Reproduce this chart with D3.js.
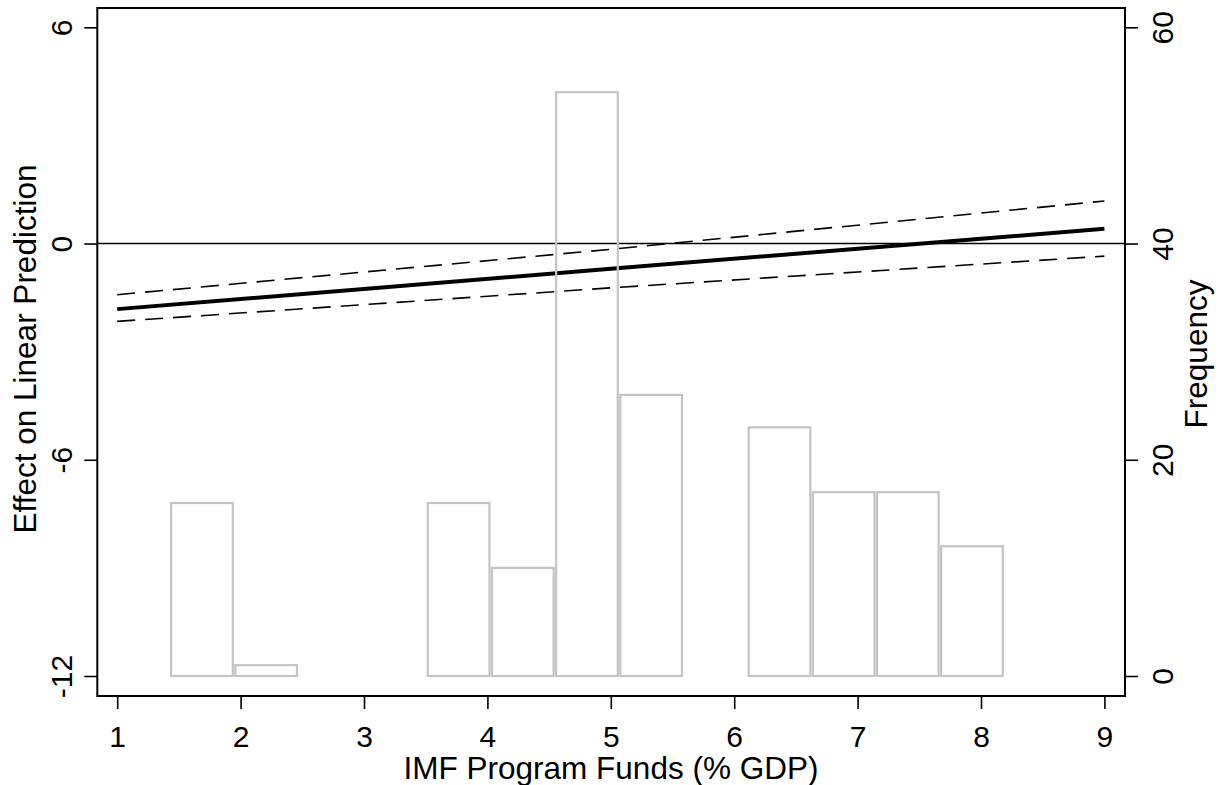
<!DOCTYPE html>
<html>
<head>
<meta charset="utf-8">
<script src="https://cdn.jsdelivr.net/npm/d3@7"></script>
<style>
  html, body { margin: 0; padding: 0; background: #fff; }
  svg { display: block; }
  text { font-family: "Liberation Sans", Arial, sans-serif; fill: #000; }
</style>
</head>
<body>
<svg id="chart" width="1222" height="785"></svg>
<script>
// ---- Data ----
const xTicks = [1, 2, 3, 4, 5, 6, 7, 8, 9];
const yLeftTicks = [-12, -6, 0, 6];
const yRightTicks = [0, 20, 40, 60];

const xMargin   = [1, 5, 9];
const effect    = [-1.82, -0.70, 0.41];
const ciUpper   = [-1.42, -0.16, 1.18];
const ciLower   = [-2.16, -1.23, -0.35];

const binStart  = [1.427, 1.947, 2.467, 2.987, 3.507, 4.027, 4.547, 5.067, 5.587, 6.107, 6.627, 7.147, 7.667];
const binWidth  = 0.52;
const frequency = [16, 1, 0, 0, 16, 10, 54, 26, 0, 23, 17, 17, 12];

const xTitle = "IMF Program Funds (% GDP)";
const yLeftTitle = "Effect on Linear Prediction";
const yRightTitle = "Frequency";

// ---- Layout ----
const box = { left: 97.3, right: 1125, top: 8, bottom: 696 };
const svg = d3.select("#chart");

const x = d3.scaleLinear().domain([1, 9]).range([117.2, 1104.4]);
const yL = d3.scaleLinear().domain([-12, 6]).range([676, 27.3]);
const yR = d3.scaleLinear().domain([0, 60]).range([676, 27.3]);

const tickFont = 30, titleFont = 31.5;
const fmt = d => String(d);   // plain hyphen-minus, as in the reference

// zero reference line
svg.append("line")
  .attr("x1", box.left).attr("x2", box.right)
  .attr("y1", yL(0)).attr("y2", yL(0))
  .attr("stroke", "#000").attr("stroke-width", 1.5);

// CI lines & effect line
const line = d3.line().x(d => x(d[0])).y(d => yL(d[1]));
[ciUpper, ciLower].forEach(arr => {
  svg.append("path")
    .attr("d", line(xMargin.map((v, i) => [v, arr[i]])))
    .attr("fill", "none").attr("stroke", "#000")
    .attr("stroke-width", 1.6).attr("stroke-dasharray", "18,10");
});
svg.append("path")
  .attr("d", line(xMargin.map((v, i) => [v, effect[i]])))
  .attr("fill", "none").attr("stroke", "#000").attr("stroke-width", 4);

// histogram bars
const bins = binStart.map((b, i) => ({ b, f: frequency[i] })).filter(d => d.f > 0);
svg.append("g").selectAll("rect").data(bins).join("rect")
  .attr("x", d => x(d.b) + 1.25)
  .attr("width", d => x(d.b + binWidth) - x(d.b) - 2.5)
  .attr("y", d => yR(d.f))
  .attr("height", d => yR(0) - yR(d.f))
  .attr("fill", "none").attr("stroke", "#c4c4c4").attr("stroke-width", 2.2);

// plot box
svg.append("rect")
  .attr("x", box.left).attr("y", box.top)
  .attr("width", box.right - box.left).attr("height", box.bottom - box.top)
  .attr("fill", "none").attr("stroke", "#000").attr("stroke-width", 2);

// bottom axis
const gx = svg.append("g").attr("transform", `translate(0,${box.bottom})`)
  .call(d3.axisBottom(x).tickValues(xTicks).tickFormat(fmt).tickSize(13).tickSizeOuter(0));
gx.select(".domain").remove();
gx.selectAll(".tick line").attr("stroke-width", 1.6);
gx.selectAll(".tick text").attr("font-size", tickFont).attr("dy", 0).attr("y", 51)
  .style("font-family", "'Liberation Sans', Arial, sans-serif");

// left axis
const gl = svg.append("g").attr("transform", `translate(${box.left},0)`)
  .call(d3.axisLeft(yL).tickValues(yLeftTicks).tickFormat(fmt).tickSize(13).tickSizeOuter(0));
gl.select(".domain").remove();
gl.selectAll(".tick line").attr("stroke-width", 1.6);
gl.selectAll(".tick text").attr("font-size", tickFont)
  .attr("text-anchor", "middle").attr("transform", "rotate(-90)")
  .attr("x", 0).attr("y", -25.3).attr("dy", 0)
  .style("font-family", "'Liberation Sans', Arial, sans-serif");

// right axis
const gr = svg.append("g").attr("transform", `translate(${box.right},0)`)
  .call(d3.axisRight(yR).tickValues(yRightTicks).tickFormat(fmt).tickSize(13).tickSizeOuter(0));
gr.select(".domain").remove();
gr.selectAll(".tick line").attr("stroke-width", 1.6);
gr.selectAll(".tick text").attr("font-size", tickFont)
  .attr("text-anchor", "middle").attr("transform", "rotate(-90)")
  .attr("x", 0).attr("y", 48).attr("dy", 0)
  .style("font-family", "'Liberation Sans', Arial, sans-serif");

// titles
svg.append("text").attr("x", 611).attr("y", 779)
  .attr("text-anchor", "middle").attr("font-size", titleFont).text(xTitle);
svg.append("text").attr("transform", "translate(36,349) rotate(-90)")
  .attr("text-anchor", "middle").attr("font-size", titleFont).text(yLeftTitle);
svg.append("text").attr("transform", "translate(1206.5,354) rotate(-90)")
  .attr("text-anchor", "middle").attr("font-size", titleFont).text(yRightTitle);
</script>
</body>
</html>
